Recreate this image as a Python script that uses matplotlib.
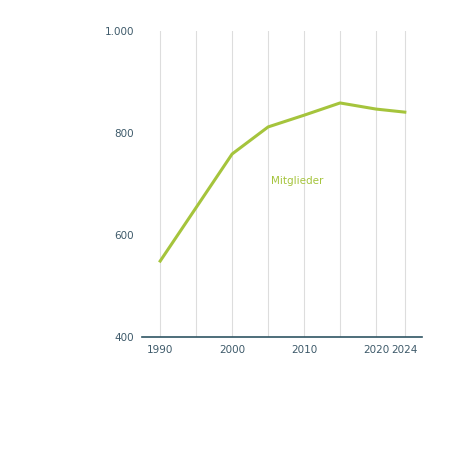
import matplotlib.pyplot as plt

years = [1990, 1995, 2000, 2005, 2010, 2015, 2020, 2024]
members = [549, 654, 759, 812, 835, 859, 847, 841]
xticks = [1990, 2000, 2010, 2020, 2024]
yticks = [400, 600, 800, 1000]
ylabels = ["400", "600", "800", "1.000"]

GREEN = "#a5c43c"
TEXT = "#3e5a6a"

fig = plt.figure(figsize=(4.5, 4.5), dpi=100)
ax = fig.add_axes([0.316, 0.251, 0.622, 0.68])

for y in years:
    ax.axvline(y, color="#dddddd", linewidth=0.8, zorder=0)
ax.plot(years, members, color=GREEN, linewidth=2.2)
ax.text(2009, 706, "Mitglieder", color=GREEN, fontsize=7.5, ha="center", va="center")

ax.set_xlim(1987.5, 2026.4)
ax.set_ylim(400, 1000)
ax.set_xticks(xticks)
ax.set_yticks(yticks)
ax.set_yticklabels(ylabels)
ax.tick_params(length=0, labelsize=7.5, colors=TEXT, pad=6)
for s in ["top", "right", "left"]:
    ax.spines[s].set_visible(False)
ax.spines["bottom"].set_color("#2f5563")
ax.spines["bottom"].set_linewidth(1.2)

fig.savefig("out.png", dpi=100)
